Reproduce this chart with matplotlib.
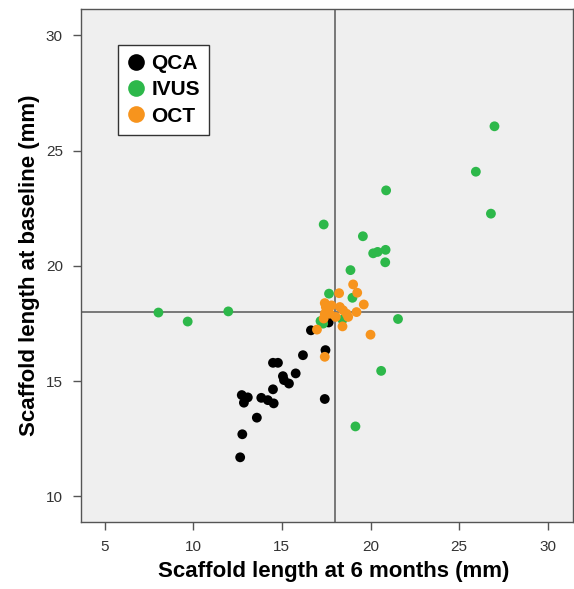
import matplotlib
matplotlib.use("Agg")
import matplotlib.pyplot as plt
from matplotlib.lines import Line2D

plt.rcParams["font.family"] = ["Liberation Sans", "DejaVu Sans"]

# ---- data -----------------------------------------------------------------
qca_x = [12.65, 12.77, 13.59, 12.74, 13.08, 12.86, 13.84, 14.21, 14.54, 14.50,
         15.06, 15.12, 15.40, 15.78, 14.50, 14.78, 16.19, 17.46, 17.42, 16.64,
         17.64]
qca_y = [11.70, 12.70, 13.42, 14.40, 14.30, 14.07, 14.28, 14.18, 14.04, 14.65,
         15.22, 15.05, 14.90, 15.34, 15.80, 15.80, 16.13, 16.35, 14.23, 17.21,
         17.55]

ivus_x = [8.04, 9.69, 11.98, 17.18, 17.33, 17.66, 18.42, 18.98, 18.87, 17.36,
          19.57, 20.15, 20.40, 20.85, 20.83, 20.88, 21.55, 20.60, 19.15, 26.79,
          25.94, 26.99]
ivus_y = [17.98, 17.59, 18.03, 17.61, 17.50, 18.80, 17.67, 18.62, 19.82, 21.80,
          21.29, 20.55, 20.61, 20.70, 20.16, 23.28, 17.70, 15.45, 13.04, 22.27,
          24.09, 26.06]

oct_x = [19.02, 19.25, 18.23, 19.62, 17.42, 17.48, 17.80, 18.27, 18.45, 17.42,
         17.70, 18.65, 19.21, 18.74, 17.36, 18.04, 18.42, 16.98, 20.00, 17.42]
oct_y = [19.20, 18.84, 18.82, 18.33, 18.39, 18.22, 18.29, 18.22, 18.08, 17.93,
         17.93, 17.93, 18.00, 17.79, 17.72, 17.79, 17.38, 17.24, 17.02, 16.06]

ref_x, ref_y = 18.0, 18.0
groups = ["QCA", "IVUS", "OCT"]
colors = ["#000000", "#2db84a", "#f7941d"]

# ---- figure ---------------------------------------------------------------
fig = plt.figure(figsize=(5.74, 5.89), dpi=100)
ax = fig.add_axes([0.141, 0.114, 0.857, 0.870])
ax.set_facecolor("#efefef")

for (xs, ys), c in zip([(qca_x, qca_y), (ivus_x, ivus_y), (oct_x, oct_y)], colors):
    ax.scatter(xs, ys, s=50, color=c, edgecolors="none", zorder=3)

ax.axvline(ref_x, color="#777777", lw=1.4, zorder=2)
ax.axhline(ref_y, color="#777777", lw=1.4, zorder=2)

ax.set_xlim(3.67, 31.41)
ax.set_ylim(8.9, 31.13)
ax.set_xticks([5, 10, 15, 20, 25, 30])
ax.set_yticks([10, 15, 20, 25, 30])
ax.tick_params(length=6, width=1, color="#555555", labelsize=11,
               labelcolor="#333333", pad=7)
for sp in ax.spines.values():
    sp.set_color("#555555")
    sp.set_linewidth(1)

ax.set_xlabel("Scaffold length at 6 months (mm)", fontsize=16,
              fontweight="bold", labelpad=5)
ax.xaxis.label.set_x(0.513)
ax.set_ylabel("Scaffold length at baseline (mm)", fontsize=16,
              fontweight="bold", labelpad=4)

handles = [Line2D([], [], ls="none", marker="o", markersize=12, color=c,
                  markeredgewidth=0) for c in colors]
leg = ax.legend(handles, groups, loc="upper left",
                bbox_to_anchor=(0.075, 0.931), frameon=True, fancybox=False,
                edgecolor="#333333", facecolor="white", framealpha=1,
                prop={"weight": "bold", "size": 15}, handlelength=0.85,
                handletextpad=0.3, labelspacing=0.35, borderpad=0.45,
                borderaxespad=0)
leg.get_frame().set_linewidth(1)

fig.savefig("out.png", dpi=100)
